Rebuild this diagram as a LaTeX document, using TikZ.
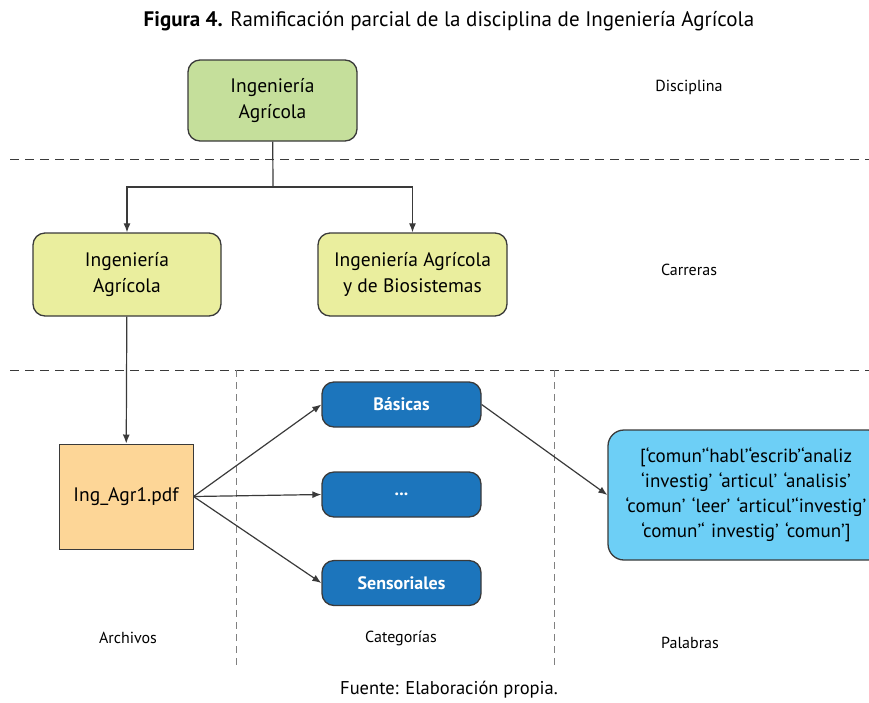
\documentclass[tikz,border=0pt]{standalone}
\usepackage{fontspec}
\setmainfont{PT Sans}
\usepackage{tikz}
\usetikzlibrary{arrows.meta}
\definecolor{verdeA}{HTML}{C5DF9B}
\definecolor{verdeB}{HTML}{EAEE9E}
\definecolor{naranja}{HTML}{FDD697}
\definecolor{azul}{HTML}{1C75BC}
\definecolor{celeste}{HTML}{6DCFF6}
\definecolor{borde}{HTML}{3A3A3A}
\tikzstyle{caja} = [draw=borde, line width=1.3pt, rounded corners=12pt, align=center, font=\fontsize{19.5}{26}\selectfont]
\tikzstyle{cat} = [draw=borde, line width=1.3pt, rounded corners=12pt, fill=azul, text=white, minimum width=159pt, minimum height=45pt, font=\fontsize{18}{20}\selectfont\bfseries]
\tikzstyle{etiqueta} = [font=\fontsize{16}{18}\selectfont]
\tikzstyle{flecha} = [draw=borde, line width=1.2pt, ->, >={Latex[length=9pt,width=7pt]}]

\begin{document}
\begin{tikzpicture}[x=1pt, y=-1pt]
            \useasboundingbox (0,0) rectangle (869,702);
            \clip (0,0) rectangle (869,702);
            % Title and source
            \node[font=\fontsize{21}{24}\selectfont] (titulo) at (449, 21) {\textbf{Figura 4.} Ramificación parcial de la disciplina de Ingeniería Agrícola};
            \node[font=\fontsize{18.5}{22}\selectfont] (fuente) at (449, 690) {Fuente: Elaboración propia.};

            % Level separators
            \draw[borde, line width=0.9pt, dash pattern=on 9pt off 6pt] (10, 159) -- (869, 159);
            \draw[borde, line width=0.9pt, dash pattern=on 9pt off 6pt] (10, 370) -- (869, 370);
            \draw[gray, line width=1pt, dash pattern=on 7pt off 5pt] (236, 370) -- (236, 665);
            \draw[gray, line width=1pt, dash pattern=on 7pt off 5pt] (554, 370) -- (554, 665);

            % Create the boxes
            \node[caja, fill=verdeA, minimum width=169pt, minimum height=81pt] (1) at (272.5, 100.5) {Ingeniería\\Agrícola};
            \node[caja, fill=verdeB, minimum width=188pt, minimum height=83pt] (2) at (127, 274.5) {Ingeniería\\Agrícola};
            \node[caja, fill=verdeB, minimum width=189pt, minimum height=83pt] (3) at (412.5, 274.5) {Ingeniería Agrícola\\y de Biosistemas};
            \node[caja, fill=naranja, rounded corners=0pt, line width=1pt, minimum width=134pt, minimum height=105pt] (4) at (126, 496.5) {Ing\_Agr1.pdf};
            \node[cat] (5) at (401.5, 404.5) {Básicas};
            \node[cat] (6) at (401.5, 494.5) {...};
            \node[cat] (7) at (401.5, 583) {Sensoriales};
            \node[caja, fill=celeste, minimum width=276pt, minimum height=130pt, text width=260pt, rounded corners=16pt, font=\fontsize{19}{25}\selectfont] (8) at (746, 495) {[‘comun’‘habl’‘escrib’‘analiz\\ ‘investig’ ‘articul’ ‘analisis’\\ ‘comun’ ‘leer’ ‘articul’‘investig’\\ ‘comun’‘ investig’ ‘comun’]};

            % Level labels
            \node[etiqueta] (l1) at (689, 87) {Disciplina};
            \node[etiqueta] (l2) at (689, 270) {Carreras};
            \node[etiqueta] (l3) at (128, 638) {Archivos};
            \node[etiqueta] (l4) at (401, 638) {Categorías};
            \node[etiqueta] (l5) at (690, 643) {Palabras};

            % Draw arrows between the nodes
            \coordinate (s) at (273, 187);
            \draw[borde, line width=1.2pt] (1) -- (s);
            \draw[flecha] (s) -| (2.north);
            \draw[flecha] (s) -| (3.north);
            \draw[flecha] (2) -- (4);
            \draw[flecha] (4.east) -- (5.west);
            \draw[flecha] (4.east) -- (6.west);
            \draw[flecha] (4.east) -- (7.west);
            \draw[flecha] (5.east) -- (8.west);
        \end{tikzpicture}
\end{document}
